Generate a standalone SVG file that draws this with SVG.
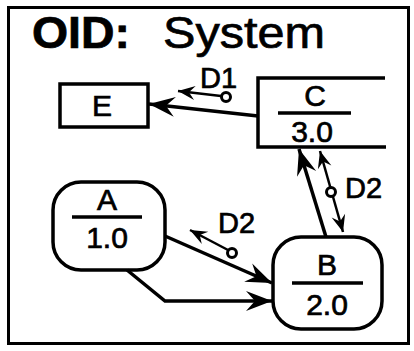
<svg xmlns="http://www.w3.org/2000/svg" width="414" height="351" viewBox="0 0 414 351">
<defs>
<style>
.frame{fill:#fff;stroke:#000;stroke-width:3}
.node{fill:#fff;stroke:#000;stroke-width:3.5}
.ln{fill:none;stroke:#000;stroke-width:3.5}
.flow{fill:none;stroke:#000;stroke-width:3.5;marker-end:url(#big)}
.df{fill:none;stroke:#000;stroke-width:2.5}
.dot{fill:#fff;stroke:#000;stroke-width:3}
text{font-family:"Liberation Sans",Arial,sans-serif;fill:#000;stroke:#000;stroke-width:0.7}
.lbl{font-size:30px;text-anchor:middle}
.dl{font-size:29px}
</style>
<marker id="big" markerUnits="userSpaceOnUse" markerWidth="32" markerHeight="26" viewBox="-28 -13 32 26" refX="0" refY="0" orient="auto">
<path d="M0,0 L-26,-10 L-17,0 L-26,10 Z" fill="#000"/>
</marker>
<marker id="sm" markerUnits="userSpaceOnUse" markerWidth="22" markerHeight="18" viewBox="-19 -9 22 18" refX="0" refY="0" orient="auto-start-reverse">
<path d="M0,0 L-17,-7 L-11,0 L-17,7 Z" fill="#000"/>
</marker>
</defs>
<rect class="frame" x="8.5" y="7.5" width="400" height="336"/>
<text x="32" y="48" font-size="44" font-weight="bold" textLength="98" lengthAdjust="spacingAndGlyphs">OID:</text>
<text x="163" y="48" font-size="45" textLength="162" lengthAdjust="spacingAndGlyphs">System</text>

<g id="E">
<rect class="node" x="60" y="84" width="88" height="43"/>
<text class="lbl" x="102" y="116">E</text>
</g>
<g id="C">
<path class="ln" d="M385,78 H258 V147 H386"/>
<line class="ln" x1="278" y1="113" x2="351" y2="113"/>
<text class="lbl" x="315" y="106">C</text>
<text class="lbl" x="312" y="142">3.0</text>
</g>
<g id="A">
<rect class="node" x="53" y="182" width="112" height="88" rx="28"/>
<line class="ln" x1="72" y1="217" x2="142" y2="217"/>
<text class="lbl" x="107" y="210">A</text>
<text class="lbl" x="107" y="248">1.0</text>
</g>
<g id="B">
<rect class="node" x="273" y="237" width="109" height="92" rx="28"/>
<line class="ln" x1="292" y1="283" x2="363" y2="283"/>
<text class="lbl" x="327" y="275">B</text>
<text class="lbl" x="327" y="315">2.0</text>
</g>

<g id="connectors">
<line class="flow" x1="258" y1="116" x2="149" y2="104"/>
<line class="flow" x1="165" y1="236" x2="272" y2="283"/>
<polyline class="flow" points="127,270 165,301 272,301"/>
<line class="flow" x1="326" y1="237" x2="299" y2="149"/>

<line class="df" x1="221" y1="96" x2="178" y2="91" style="marker-end:url(#sm)"/>
<circle class="dot" cx="226" cy="97" r="4.5"/>
<text class="dl" x="200" y="88">D1</text>

<line class="df" x1="228" y1="250" x2="190" y2="230" style="marker-end:url(#sm)"/>
<circle class="dot" cx="232" cy="253" r="4.5"/>
<text class="dl" x="218" y="233">D2</text>

<line class="df" x1="320" y1="151" x2="343" y2="232" style="marker-start:url(#sm);marker-end:url(#sm)"/>
<circle class="dot" cx="331" cy="192" r="4.5"/>
<text class="dl" x="345" y="198">D2</text>
</g>
</svg>
